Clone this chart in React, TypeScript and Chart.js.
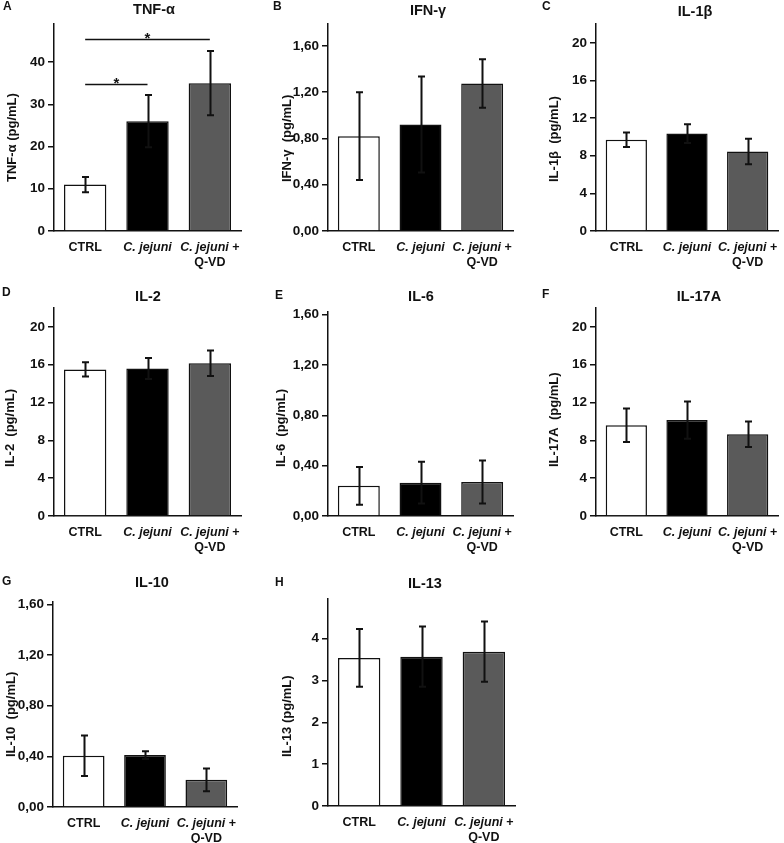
import React, { useEffect, useRef } from 'react';
import { Chart, registerables } from 'chart.js';

Chart.register(...registerables);

// ---------- data ----------
const categories = ['CTRL', 'C. jejuni', 'C. jejuni + Q-VD'];
// rich label parts for each category (italic species name)
const catLabelLines = [
  [[{ t: 'CTRL', i: false }]],
  [[{ t: 'C. jejuni', i: true }]],
  [[{ t: 'C. jejuni', i: true }, { t: ' +', i: false }], [{ t: 'Q-VD', i: false }]],
];
const barColors = ['#ffffff', '#000000', '#5a5a5a'];

const tnfMean = [11.0, 26.0, 35.0];
const tnfErr = [1.8, 6.2, 7.6];
const tnfSigPairs = [[0, 1], [0, 2]];
const tnfSigLevels = [34.9, 45.5];

const ifnMean = [0.82, 0.92, 1.275];
const ifnErr = [0.38, 0.415, 0.21];

const il1bMean = [9.7, 10.35, 8.45];
const il1bErr = [0.76, 1.0, 1.35];

const il2Mean = [15.5, 15.6, 16.15];
const il2Err = [0.75, 1.1, 1.35];

const il6Mean = [0.24, 0.265, 0.27];
const il6Err = [0.15, 0.165, 0.17];

const il17aMean = [9.6, 10.15, 8.65];
const il17aErr = [1.77, 1.97, 1.35];

const il10Mean = [0.405, 0.41, 0.215];
const il10Err = [0.16, 0.03, 0.09];

const il13Mean = [3.54, 3.57, 3.69];
const il13Err = [0.69, 0.72, 0.72];

// y-axis tick settings (max, step, decimals)
const tnfAxis = [49, 10, 0];
const ifnAxis = [1.79, 0.4, 2];
const il1bAxis = [22, 4, 0];
const il2Axis = [22, 4, 0];
const il6Axis = [1.62, 0.4, 2];
const il17aAxis = [22, 4, 0];
const il10Axis = [1.62, 0.4, 2];
const il13Axis = [4.95, 1, 0];

const titles = ['TNF-α', 'IFN-γ', 'IL-1β', 'IL-2', 'IL-6', 'IL-17A', 'IL-10', 'IL-13'];
const yTitles = [
  'TNF-α (pg/mL)', 'IFN-γ  (pg/mL)', 'IL-1β  (pg/mL)', 'IL-2  (pg/mL)',
  'IL-6  (pg/mL)', 'IL-17A  (pg/mL)', 'IL-10  (pg/mL)', 'IL-13 (pg/mL)',
];
const letters = ['A', 'B', 'C', 'D', 'E', 'F', 'G', 'H'];

// ---------- layout (page pixel positions) ----------
const FONT = '"Liberation Sans", Arial, Helvetica, sans-serif';
const INK = '#111111';

const layouts = [
  { cx: 0, cy: 0, cw: 260, ch: 280, L: 54, T: 24, R: 241, B: 231, tx: 154, ty: 9.5, lx: 3, ly: 7, yx: 12.5, yb: 182 },
  { cx: 260, cy: 0, cw: 260, ch: 280, L: 328, T: 24, R: 513, B: 231, tx: 428, ty: 11, lx: 273, ly: 7, yx: 287, yb: 182 },
  { cx: 520, cy: 0, cw: 264, ch: 280, L: 596, T: 24, R: 778, B: 231, tx: 695, ty: 11.5, lx: 542, ly: 7, yx: 554, yb: 182 },
  { cx: 0, cy: 280, cw: 260, ch: 280, L: 54, T: 308, R: 241, B: 516, tx: 148, ty: 297, lx: 2, ly: 293, yx: 10, yb: 467 },
  { cx: 260, cy: 280, cw: 260, ch: 280, L: 328, T: 312, R: 513, B: 516, tx: 421, ty: 297, lx: 275, ly: 296, yx: 281, yb: 467 },
  { cx: 520, cy: 280, cw: 264, ch: 280, L: 596, T: 308, R: 778, B: 516, tx: 699, ty: 297, lx: 542, ly: 295, yx: 554, yb: 467 },
  { cx: 0, cy: 560, cw: 260, ch: 283, L: 53, T: 602, R: 237, B: 807, tx: 152, ty: 583, lx: 2, ly: 582, yx: 11, yb: 757 },
  { cx: 260, cy: 560, cw: 260, ch: 283, L: 328, T: 599, R: 515, B: 806, tx: 425, ty: 584, lx: 275, ly: 583, yx: 287, yb: 757 },
];

const means = [tnfMean, ifnMean, il1bMean, il2Mean, il6Mean, il17aMean, il10Mean, il13Mean];
const errs = [tnfErr, ifnErr, il1bErr, il2Err, il6Err, il17aErr, il10Err, il13Err];
const axes = [tnfAxis, ifnAxis, il1bAxis, il2Axis, il6Axis, il17aAxis, il10Axis, il13Axis];

function fmt(v: number, dec: number) {
  return Number(v).toFixed(dec).replace('.', ',');
}

function makePlugin(idx: number) {
  const lay = layouts[idx];
  return {
    id: 'panelDeco' + idx,
    afterDatasetsDraw(chart: any) {
      const ctx = chart.ctx;
      const xs = chart.scales.x;
      const ys = chart.scales.y;
      const meta = chart.getDatasetMeta(0);
      const m = means[idx];
      const e = errs[idx];
      ctx.save();
      ctx.strokeStyle = INK;
      ctx.lineWidth = 2;
      meta.data.forEach((bar: any, i: number) => {
        const x = Math.round(bar.x) + 0.5;
        const yt = ys.getPixelForValue(m[i] + e[i]);
        const yb = ys.getPixelForValue(Math.max(0, m[i] - e[i]));
        ctx.beginPath();
        ctx.moveTo(x, yt);
        ctx.lineTo(x, yb);
        ctx.moveTo(x - 3.5, yt);
        ctx.lineTo(x + 3.5, yt);
        ctx.moveTo(x - 3.5, yb);
        ctx.lineTo(x + 3.5, yb);
        ctx.stroke();
      });
      if (idx === 0) {
        ctx.lineWidth = 1.5;
        ctx.fillStyle = INK;
        ctx.font = `bold 15px ${FONT}`;
        ctx.textAlign = 'center';
        ctx.textBaseline = 'alphabetic';
        tnfSigPairs.forEach((p, k) => {
          const x1 = xs.getPixelForValue(p[0]);
          const x2 = xs.getPixelForValue(p[1]);
          const y = Math.round(ys.getPixelForValue(tnfSigLevels[k])) + 0.5;
          ctx.beginPath();
          ctx.moveTo(x1, y);
          ctx.lineTo(x2, y);
          ctx.stroke();
          ctx.fillText('*', (x1 + x2) / 2, y + 3);
        });
      }
      ctx.restore();
    },
    afterDraw(chart: any) {
      const ctx = chart.ctx;
      const xs = chart.scales.x;
      const area = chart.chartArea;
      ctx.save();
      ctx.fillStyle = INK;
      // panel letter
      ctx.font = `bold 12px ${FONT}`;
      ctx.textAlign = 'left';
      ctx.textBaseline = 'middle';
      ctx.fillText(letters[idx], lay.lx - lay.cx, lay.ly - lay.cy);
      // title
      ctx.font = `bold 14.5px ${FONT}`;
      ctx.textAlign = 'center';
      ctx.fillText(titles[idx], lay.tx - lay.cx, lay.ty - lay.cy);
      // y title
      ctx.save();
      ctx.translate(lay.yx - lay.cx, lay.yb - lay.cy);
      ctx.rotate(-Math.PI / 2);
      ctx.font = `bold 13px ${FONT}`;
      ctx.textAlign = 'left';
      ctx.textBaseline = 'middle';
      ctx.fillText(yTitles[idx], 0, 0);
      ctx.restore();
      // x labels (mixed italic)
      ctx.textBaseline = 'middle';
      ctx.textAlign = 'left';
      categories.forEach((_c, i) => {
        const cxp = xs.getPixelForValue(i);
        catLabelLines[i].forEach((parts, li) => {
          const y = area.bottom + 17 + li * 15;
          let w = 0;
          parts.forEach((p) => {
            ctx.font = `${p.i ? 'italic ' : ''}bold 12.5px ${FONT}`;
            w += ctx.measureText(p.t).width;
          });
          let x = cxp - w / 2;
          parts.forEach((p) => {
            ctx.font = `${p.i ? 'italic ' : ''}bold 12.5px ${FONT}`;
            ctx.fillText(p.t, x, y);
            x += ctx.measureText(p.t).width;
          });
        });
      });
      ctx.restore();
    },
  };
}

function Panel({ idx }: { idx: number }) {
  const ref = useRef<HTMLCanvasElement>(null);
  const lay = layouts[idx];
  useEffect(() => {
    if (!ref.current) return;
    const [max, step, dec] = axes[idx];
    const chart = new Chart(ref.current, {
      type: 'bar',
      data: {
        labels: categories,
        datasets: [
          {
            data: means[idx],
            backgroundColor: barColors,
            borderColor: INK,
            borderWidth: 1.5,
            barPercentage: 0.68,
            categoryPercentage: 1,
          },
        ],
      },
      options: {
        responsive: false,
        animation: false,
        devicePixelRatio: 1,
        layout: {
          padding: { left: 0, top: lay.T - lay.cy, right: lay.cx + lay.cw - lay.R, bottom: 0 },
        },
        plugins: {
          legend: { display: false },
          tooltip: { enabled: false },
          title: { display: false },
        },
        scales: {
          x: {
            type: 'category',
            offset: true,
            grid: { display: false },
            border: { display: true, color: INK, width: 1.5 },
            ticks: { display: false },
            afterFit: (s: any) => {
              s.height = lay.cy + lay.ch - lay.B;
            },
          },
          y: {
            type: 'linear',
            min: 0,
            max: max,
            bounds: 'data',
            grid: {
              display: true,
              drawOnChartArea: false,
              drawTicks: true,
              tickLength: 6,
              color: INK,
              lineWidth: 1.5,
            },
            border: { display: true, color: INK, width: 1.5 },
            ticks: {
              stepSize: step,
              includeBounds: false,
              padding: 3,
              color: INK,
              font: { family: FONT, size: 13.5, weight: 'bold' },
              callback: (v: any) => fmt(v, dec),
            },
            afterBuildTicks: (s: any) => {
              s.ticks = s.ticks.filter((t: any) => {
                const r = t.value / step;
                return Math.abs(r - Math.round(r)) < 1e-6;
              });
            },
            afterFit: (s: any) => {
              s.width = lay.L - lay.cx;
            },
          },
        },
      } as any,
      plugins: [makePlugin(idx)],
    });
    return () => chart.destroy();
  }, [idx]);
  return (
    <canvas
      ref={ref}
      width={lay.cw}
      height={lay.ch}
      style={{ position: 'absolute', left: lay.cx, top: lay.cy, width: lay.cw, height: lay.ch }}
    />
  );
}

export default function App() {
  return (
    <div style={{ position: 'absolute', left: 0, top: 0, width: 784, height: 843, background: '#ffffff', overflow: 'hidden' }}>
      {layouts.map((_l, i) => (
        <Panel key={i} idx={i} />
      ))}
    </div>
  );
}
